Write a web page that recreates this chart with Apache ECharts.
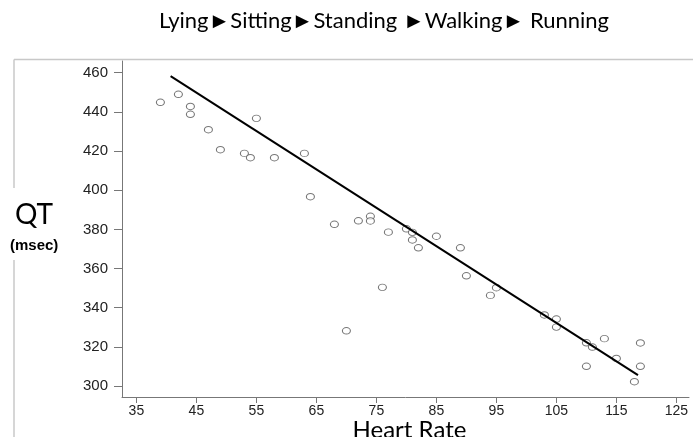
<!DOCTYPE html>
<html>
<head>
<meta charset="utf-8">
<script src="https://cdn.jsdelivr.net/npm/echarts@6/dist/echarts.min.js"></script>
<style>
    html, body { margin: 0; padding: 0; background: #fff; }
    #myChart { width: 693px; height: 437px; }
</style>
</head>
<body>
<div id="myChart"></div>
<script>
    // heart rate (bpm) and QT (msec)
    var heartRate = [39, 42, 44, 44, 47, 49, 53, 54, 55, 58, 63, 64, 68, 70, 72, 74, 74, 76, 77, 80,
        81, 81, 82, 85, 89, 90, 94, 95, 103, 105, 105, 110, 110, 111, 113, 115, 118, 119, 119];
    var qtValues = [444.9, 449, 442.8, 438.8, 430.9, 420.7, 418.8, 416.6, 436.7, 416.6, 418.8, 396.7, 382.6, 328.2, 384.4, 386.7, 384.3, 350.4, 378.6, 380.3,
        378.5, 374.6, 370.6, 376.5, 370.6, 356.3, 346.3, 350.2, 336.3, 334.2, 330.1, 322.1, 310.1, 319.9, 324.2, 314.1, 302.2, 322, 310.1];
    // fitted line end points
    var fitX = [40.7, 118.6];
    var fitY = [458.3, 305.6];
    var xTicks = [35, 45, 55, 65, 75, 85, 95, 105, 115, 125];
    var yTicks = [300, 320, 340, 360, 380, 400, 420, 440, 460];

    var myChart = echarts.init(document.getElementById('myChart'));

    var points = heartRate.map(function (v, i) { return [v, qtValues[i]]; });
    var fitLine = fitX.map(function (v, i) { return [v, fitY[i]]; });

    var option = {
        backgroundColor: '#ffffff',
        animation: false,
        title: {
            text: 'Lying►Sitting►Standing ►Walking► Running',
            left: 379,
            top: 5,
            textAlign: 'center',
            textStyle: {
                fontFamily: 'Lato',
                fontWeight: 'normal',
                fontSize: 22,
                color: '#000'
            }
        },
        grid: {
            left: 122,
            top: 61,
            right: 4,
            bottom: 40,
            outerBoundsMode: 'none'
        },
        xAxis: {
            type: 'value',
            min: 32.6,
            max: 127.1,
            name: 'Heart Rate',
            nameLocation: 'middle',
            nameGap: 21,
            nameMoveOverlap: false,
            nameTextStyle: {
                fontFamily: 'Lato',
                fontSize: 24,
                color: '#000',
                padding: [0, 0, 0, 8]
            },
            splitLine: { show: false },
            axisLine: { lineStyle: { color: '#777', width: 1 } },
            axisTick: {
                length: 6,
                customValues: xTicks,
                lineStyle: { color: '#777' }
            },
            axisLabel: {
                customValues: xTicks,
                margin: 7,
                fontFamily: 'Liberation Sans',
                fontSize: 14,
                color: '#222'
            }
        },
        yAxis: {
            type: 'value',
            min: 294.4,
            max: 466,
            splitLine: { show: false },
            axisLine: { show: true, lineStyle: { color: '#777', width: 1 } },
            axisTick: {
                show: true,
                length: 8,
                customValues: yTicks,
                lineStyle: { color: '#777' }
            },
            axisLabel: {
                customValues: yTicks,
                margin: 14,
                fontFamily: 'Liberation Sans',
                fontSize: 15,
                color: '#222'
            }
        },
        graphic: [
            // frame behind the plot
            { type: 'line', shape: { x1: 14, y1: 59.5, x2: 693, y2: 59.5 }, style: { stroke: '#c8c8c8', lineWidth: 1.5 } },
            { type: 'line', shape: { x1: 14, y1: 59.5, x2: 14, y2: 188 }, style: { stroke: '#c8c8c8', lineWidth: 1.5 } },
            { type: 'line', shape: { x1: 14, y1: 260, x2: 14, y2: 437 }, style: { stroke: '#c8c8c8', lineWidth: 1.5 } },
            {
                type: 'text', left: 15, top: 201,
                style: { text: 'QT', fontFamily: 'Lato', fontSize: 28, fill: '#000' }
            },
            {
                type: 'text', left: 10, top: 238,
                style: { text: '(msec)', fontFamily: 'Liberation Sans', fontWeight: 'bold', fontSize: 15, fill: '#000' }
            }
        ],
        series: [
            {
                type: 'scatter',
                data: points,
                symbol: 'circle',
                symbolSize: [8, 6.5],
                itemStyle: {
                    color: '#fff',
                    borderColor: '#555',
                    borderWidth: 1
                }
            },
            {
                type: 'line',
                data: fitLine,
                symbol: 'none',
                lineStyle: { color: '#000', width: 2 }
            }
        ]
    };
    myChart.setOption(option);
</script>
</body>
</html>
